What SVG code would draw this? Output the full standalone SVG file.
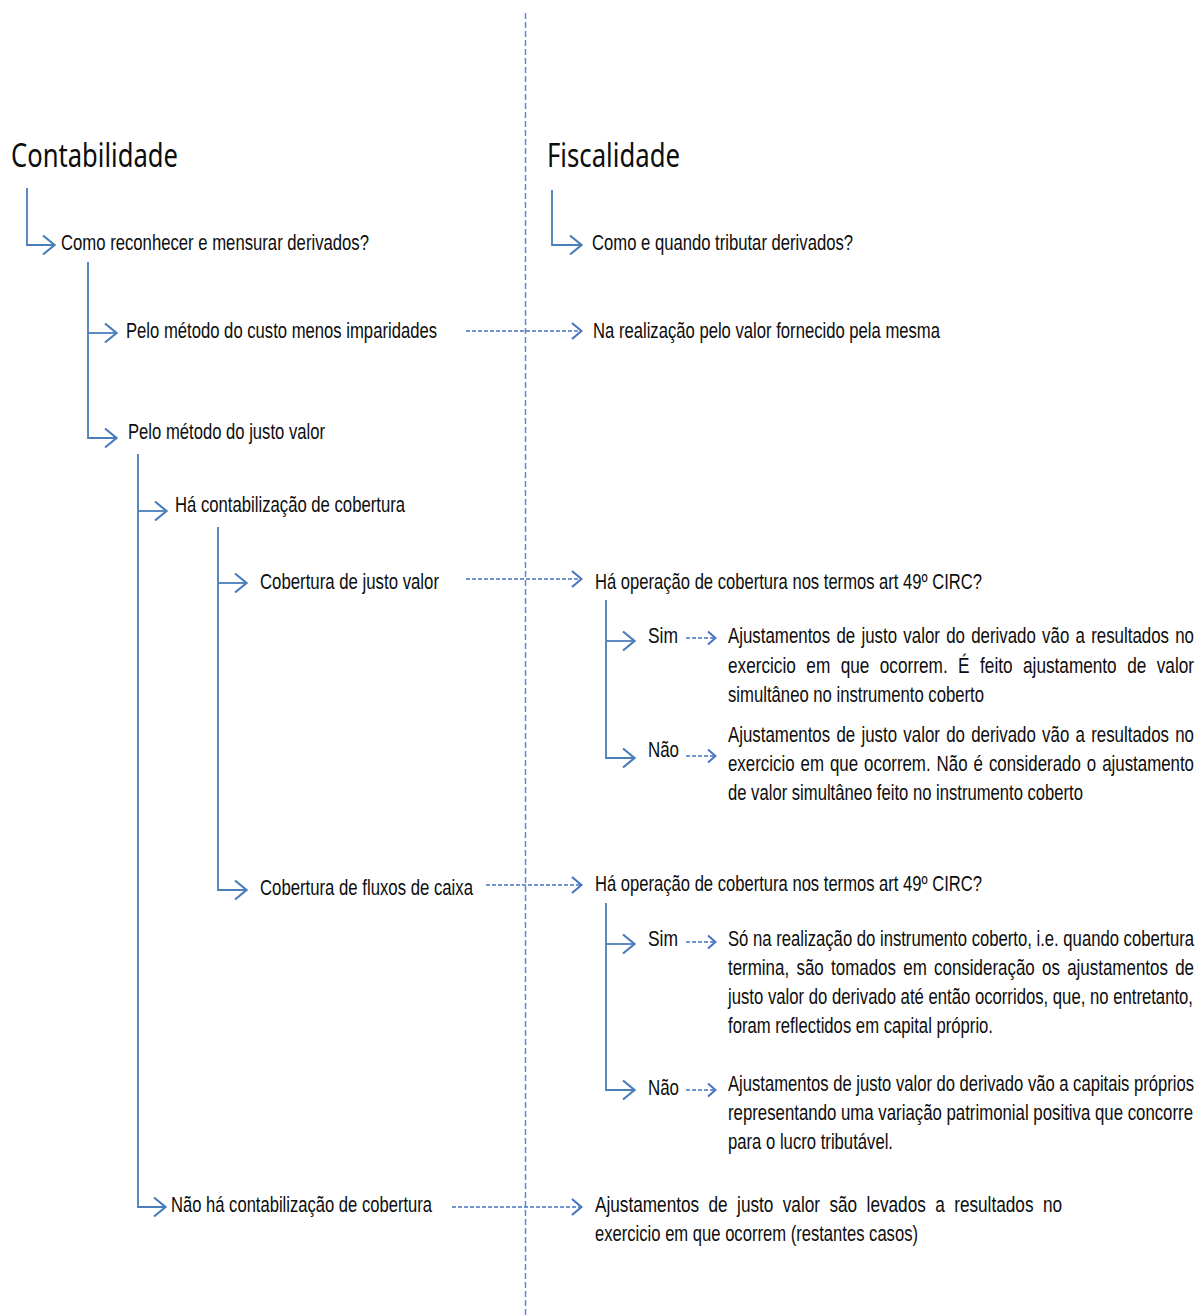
<svg xmlns="http://www.w3.org/2000/svg" width="1199" height="1315" viewBox="0 0 1199 1315">
<style>
.t{font-family:"Liberation Sans Narrow","Arial Narrow","Liberation Sans",Arial,sans-serif;font-size:21.5px;fill:#0d0d0d}
.h{font-family:"Noto Sans","Liberation Sans",sans-serif;font-size:32px;fill:#0d0d0d}
.tree{stroke:#4a7ebb;stroke-width:1.8;fill:none}
.dash{stroke:#4472c4;stroke-width:1.7;fill:none;stroke-dasharray:4 2}
.axis{stroke:#5b8ac6;stroke-width:1.5;fill:none;stroke-dasharray:6 3}
</style>
<defs>
<marker id="chev" markerUnits="userSpaceOnUse" viewBox="0 0 14 22" refX="13" refY="11" markerWidth="14" markerHeight="22" orient="auto">
<path d="M1,1.5 L12.5,11 L1,20.5" fill="none" stroke="#4a7ebb" stroke-width="2.2"/>
</marker>
<marker id="dchev" markerUnits="userSpaceOnUse" viewBox="0 0 12 20" refX="11" refY="10" markerWidth="12" markerHeight="20" orient="auto">
<path d="M1,2 L10.5,10 L1,18" fill="none" stroke="#4472c4" stroke-width="2.1"/>
</marker>
<marker id="schev" markerUnits="userSpaceOnUse" viewBox="0 0 10 16" refX="9" refY="8" markerWidth="10" markerHeight="16" orient="auto">
<path d="M1,1.5 L8.5,8 L1,14.5" fill="none" stroke="#4472c4" stroke-width="1.9"/>
</marker>
</defs>
<rect width="1199" height="1315" fill="#fff"/>
<line class="axis" x1="525.5" y1="13" x2="525.5" y2="1315"/>
<g id="connectors">
<path class="tree" d="M27,188 V245 H55" marker-end="url(#chev)"/>
<path class="tree" d="M552,190 V245 H582" marker-end="url(#chev)"/>
<path class="tree" d="M88,262 V438 H117" marker-end="url(#chev)"/>
<path class="tree" d="M88,333 H117" marker-end="url(#chev)"/>
<path class="tree" d="M138,454 V1207 H166" marker-end="url(#chev)"/>
<path class="tree" d="M138,511 H167" marker-end="url(#chev)"/>
<path class="tree" d="M218,527 V890 H247" marker-end="url(#chev)"/>
<path class="tree" d="M218,583 H247" marker-end="url(#chev)"/>
<path class="tree" d="M606,600 V758 H635" marker-end="url(#chev)"/>
<path class="tree" d="M606,641 H635" marker-end="url(#chev)"/>
<path class="tree" d="M606,903 V1090 H635" marker-end="url(#chev)"/>
<path class="tree" d="M606,944 H635" marker-end="url(#chev)"/>
<line class="dash" x1="466" y1="331" x2="582" y2="331" marker-end="url(#dchev)"/>
<line class="dash" x1="466" y1="579" x2="582" y2="579" marker-end="url(#dchev)"/>
<line class="dash" x1="486" y1="885" x2="582" y2="885" marker-end="url(#dchev)"/>
<line class="dash" x1="452" y1="1207" x2="582" y2="1207" marker-end="url(#dchev)"/>
<line class="dash" x1="686" y1="638" x2="716" y2="638" marker-end="url(#schev)"/>
<line class="dash" x1="686" y1="756" x2="716" y2="756" marker-end="url(#schev)"/>
<line class="dash" x1="686" y1="942" x2="716" y2="942" marker-end="url(#schev)"/>
<line class="dash" x1="686" y1="1090" x2="716" y2="1090" marker-end="url(#schev)"/>
</g>
<g id="h-contabilidade"><text class="h" x="11" y="167" textLength="167" lengthAdjust="spacingAndGlyphs">Contabilidade</text></g>
<g id="h-fiscalidade"><text class="h" x="547" y="167" textLength="133" lengthAdjust="spacingAndGlyphs">Fiscalidade</text></g>
<g id="n-como-reconhecer"><text class="t" x="61" y="250" textLength="308" lengthAdjust="spacingAndGlyphs">Como reconhecer e mensurar derivados?</text></g>
<g id="n-como-tributar"><text class="t" x="592" y="250" textLength="261" lengthAdjust="spacingAndGlyphs">Como e quando tributar derivados?</text></g>
<g id="n-custo"><text class="t" x="126" y="338" textLength="311" lengthAdjust="spacingAndGlyphs">Pelo método do custo menos imparidades</text></g>
<g id="n-realizacao"><text class="t" x="593" y="338" textLength="347" lengthAdjust="spacingAndGlyphs">Na realização pelo valor fornecido pela mesma</text></g>
<g id="n-justo-valor"><text class="t" x="128" y="439" textLength="197" lengthAdjust="spacingAndGlyphs">Pelo método do justo valor</text></g>
<g id="n-ha-contab"><text class="t" x="175" y="512" textLength="230" lengthAdjust="spacingAndGlyphs">Há contabilização de cobertura</text></g>
<g id="n-cob-justo"><text class="t" x="260" y="589" textLength="179" lengthAdjust="spacingAndGlyphs">Cobertura de justo valor</text></g>
<g id="n-op-cob-1"><text class="t" x="595" y="589" textLength="387" lengthAdjust="spacingAndGlyphs">Há operação de cobertura nos termos art 49º CIRC?</text></g>
<g id="n-sim-1"><text class="t" x="648" y="643" textLength="30" lengthAdjust="spacingAndGlyphs">Sim</text></g>
<g id="n-p1">
<text class="t" x="728" y="643" word-spacing="2" textLength="466" lengthAdjust="spacingAndGlyphs">Ajustamentos de justo valor do derivado vão a resultados no</text>
<text class="t" x="728" y="673" word-spacing="7.1" textLength="466" lengthAdjust="spacingAndGlyphs">exercicio em que ocorrem. É feito ajustamento de valor</text>
<text class="t" x="728" y="702" textLength="256" lengthAdjust="spacingAndGlyphs">simultâneo no instrumento coberto</text>
</g>
<g id="n-nao-1"><text class="t" x="648" y="757" textLength="31" lengthAdjust="spacingAndGlyphs">Não</text></g>
<g id="n-p2">
<text class="t" x="728" y="742" word-spacing="2" textLength="466" lengthAdjust="spacingAndGlyphs">Ajustamentos de justo valor do derivado vão a resultados no</text>
<text class="t" x="728" y="771" word-spacing="1.7" textLength="466" lengthAdjust="spacingAndGlyphs">exercicio em que ocorrem. Não é considerado o ajustamento</text>
<text class="t" x="728" y="800" textLength="355" lengthAdjust="spacingAndGlyphs">de valor simultâneo feito no instrumento coberto</text>
</g>
<g id="n-cob-fluxos"><text class="t" x="260" y="895" textLength="213" lengthAdjust="spacingAndGlyphs">Cobertura de fluxos de caixa</text></g>
<g id="n-op-cob-2"><text class="t" x="595" y="891" textLength="387" lengthAdjust="spacingAndGlyphs">Há operação de cobertura nos termos art 49º CIRC?</text></g>
<g id="n-sim-2"><text class="t" x="648" y="946" textLength="30" lengthAdjust="spacingAndGlyphs">Sim</text></g>
<g id="n-p3">
<text class="t" x="728" y="946" textLength="466" lengthAdjust="spacingAndGlyphs">Só na realização do instrumento coberto, i.e. quando cobertura</text>
<text class="t" x="728" y="975" word-spacing="3.3" textLength="466" lengthAdjust="spacingAndGlyphs">termina, são tomados em consideração os ajustamentos de</text>
<text class="t" x="728" y="1004" textLength="465" lengthAdjust="spacingAndGlyphs">justo valor do derivado até então ocorridos, que, no entretanto,</text>
<text class="t" x="728" y="1033" textLength="265" lengthAdjust="spacingAndGlyphs">foram reflectidos em capital próprio.</text>
</g>
<g id="n-nao-2"><text class="t" x="648" y="1095" textLength="31" lengthAdjust="spacingAndGlyphs">Não</text></g>
<g id="n-p4">
<text class="t" x="728" y="1091" textLength="466" lengthAdjust="spacingAndGlyphs">Ajustamentos de justo valor do derivado vão a capitais próprios</text>
<text class="t" x="728" y="1120" textLength="465" lengthAdjust="spacingAndGlyphs">representando uma variação patrimonial positiva que concorre</text>
<text class="t" x="728" y="1149" textLength="165" lengthAdjust="spacingAndGlyphs">para o lucro tributável.</text>
</g>
<g id="n-nao-ha-contab"><text class="t" x="171" y="1212" textLength="261" lengthAdjust="spacingAndGlyphs">Não há contabilização de cobertura</text></g>
<g id="n-p5">
<text class="t" x="595" y="1212" word-spacing="5.8" textLength="467" lengthAdjust="spacingAndGlyphs">Ajustamentos de justo valor são levados a resultados no</text>
<text class="t" x="595" y="1241" textLength="323" lengthAdjust="spacingAndGlyphs">exercicio em que ocorrem (restantes casos)</text>
</g>
</svg>
